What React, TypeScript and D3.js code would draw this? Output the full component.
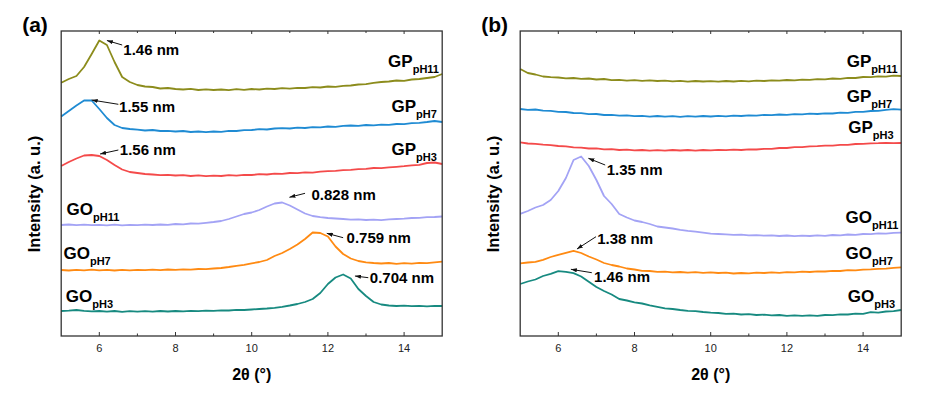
import * as d3 from "d3";

const WIDTH = 926;
const HEIGHT = 397;
const FONT = "Arial, 'Liberation Sans', Helvetica, sans-serif";

// 2θ sampling positions (degrees) shared by every pattern
const TWO_THETA = d3.range(51).map((i) => +(5 + i * 0.2).toFixed(1));
const X_MAJOR = [6, 8, 10, 12, 14];
const X_MINOR = [7, 9, 11, 13];

// panel (a) intensities (a.u., curves already stacked)
const A_GP11 = [253.3, 257, 260, 269, 282, 295.5, 291, 274, 259, 254, 251, 249.5, 249, 247.5, 248, 247, 246.5, 247.2, 246, 246.7, 246, 246.5, 245.8, 246.8, 246.2, 247, 246.5, 247.4, 247, 247.8, 247.4, 248.2, 248, 248.8, 248.5, 249.5, 249.2, 250.2, 250.5, 251.5, 251.8, 253.2, 254, 254.5, 255.5, 255.2, 256.5, 257, 258, 259, 262];
const A_GP7 = [219.5, 225, 230.5, 235.5, 235.5, 227, 218, 211, 208, 207, 206.3, 205.5, 206, 205, 205.2, 204.5, 205, 204, 204.5, 203.8, 204.5, 204.2, 205.2, 205, 205.8, 206, 206.8, 206.5, 207.5, 207.8, 207.5, 208.4, 208, 208.8, 208.6, 209.5, 209.2, 210.2, 210.5, 210.2, 211, 210.7, 211.4, 211.2, 212, 211.8, 212.8, 213.2, 214, 215, 214];
const A_GP3 = [170, 174, 177.5, 180.5, 181, 180, 176, 171, 166.5, 164, 163, 162, 161.5, 160.8, 161.2, 160.5, 160.8, 160, 160.6, 159.8, 160.4, 160, 160.8, 160.4, 161.2, 161, 161.8, 161.5, 162.4, 162.2, 163, 162.8, 163.6, 163.4, 164.4, 164.8, 165.2, 165.8, 166.2, 166.8, 167.2, 168, 167.8, 168.6, 169.2, 169.8, 170.6, 171.2, 173, 173.5, 172];
const A_GO11 = [111, 111.5, 110.8, 111.4, 110.8, 111.2, 110.6, 111.3, 110.7, 111.2, 110.8, 111.4, 111, 111.5, 111.2, 112, 111.7, 112.5, 112.4, 113.2, 114, 115, 117, 119.5, 122, 123.5, 126, 129.5, 132.5, 133.5, 130.5, 126.5, 122.5, 120, 118.8, 118, 117.5, 117, 116.4, 116.7, 116, 116.4, 115.8, 116.6, 117, 117.4, 118, 118.2, 118.8, 119, 119.5];
const A_GO7 = [66, 65.5, 66.2, 65.6, 66.4, 65.7, 66.2, 65.5, 66.1, 65.6, 66.2, 65.8, 66.4, 65.9, 66.5, 66.1, 66.7, 66.4, 67, 66.8, 67.5, 68, 69, 70.2, 71.2, 72.7, 74, 76, 80, 83, 87, 91.5, 97, 103.5, 103, 99.5, 89.5, 82, 77.5, 75, 73.7, 73, 72.5, 73, 72.2, 72.8, 72.4, 73.2, 72.8, 73.6, 74.3];
const A_GO3 = [25, 25.4, 26, 25.2, 24.6, 25, 24.4, 25, 24.2, 24.8, 24.3, 24.9, 24.4, 25, 24.5, 25, 24.6, 25.2, 24.8, 25.4, 25.1, 25.7, 25.5, 26.2, 26, 26.5, 27, 27.5, 28.2, 29.2, 30.5, 32, 34, 37, 43, 52, 58.5, 61.5, 57.5, 47, 40, 34, 31.5, 30.5, 30, 30.4, 29.8, 30.2, 29.7, 30.1, 30];

// panel (b)
const B_GP11 = [267, 263, 261.5, 259.5, 258.8, 258.5, 257.6, 258, 257.2, 257.5, 256.5, 257, 255.8, 256.2, 255.4, 255.8, 255.1, 255.6, 255, 255.3, 254.6, 255.1, 254.4, 255, 254.5, 254.8, 254.4, 255, 254.5, 255.1, 254.7, 255.4, 255, 255.7, 255.3, 256, 255.7, 256.4, 256.2, 256.8, 256.7, 257.5, 257.2, 258.2, 258, 259, 258.8, 259.6, 259.4, 260.4, 260];
const B_GP7 = [227, 226.2, 226.5, 225.4, 225.2, 224.2, 224, 223, 222.8, 221.8, 222, 221, 221.2, 220.4, 220.7, 219.8, 220.2, 219.4, 220, 219.3, 219.8, 219.2, 219.9, 219.4, 220, 219.5, 220.1, 219.7, 220.4, 220, 220.7, 220.4, 221.1, 220.8, 221.5, 221.2, 221.9, 221.6, 222.3, 222, 222.7, 222.5, 223.4, 223.2, 224.2, 224.2, 225, 225.2, 226.2, 226.8, 226.3];
const B_GP3 = [193.7, 192.5, 192.2, 191.4, 190.8, 190, 189.6, 188.6, 188.4, 187.5, 187.6, 186.6, 186.8, 186, 186.4, 185.6, 186, 185.4, 185.9, 185.4, 186, 185.5, 186, 185.4, 186, 185.6, 186.2, 185.8, 186.4, 186, 186.7, 186.5, 187.2, 187.1, 188, 188, 188.8, 188.8, 189.7, 189.8, 190.4, 190.4, 191.2, 191.2, 192, 192.2, 192.6, 192.8, 193.2, 192.8, 193];
const B_GO11 = [122.2, 125, 128.5, 131, 136, 145, 158, 176, 179.5, 170, 156, 140, 132, 122, 118.5, 115.5, 114, 112, 109.5, 108.5, 107.5, 106.2, 105.2, 104.4, 103.4, 102.3, 102, 101.6, 101.2, 101.4, 100.6, 100.9, 100.3, 100.7, 100, 100.5, 99.8, 100.4, 100, 100.7, 100.2, 101, 100.7, 101.5, 101.2, 102, 101.8, 102.6, 102.4, 103.2, 103.3];
const B_GO7 = [72.7, 73.5, 74.2, 76.2, 79, 81.2, 83.2, 85.2, 83, 79.5, 76.5, 73, 71, 69.5, 67.5, 66.5, 65.2, 65, 64.2, 64.4, 63.6, 64, 63.3, 63.8, 63.2, 63.7, 63, 63.4, 62.5, 63, 62.7, 63.4, 63, 63.6, 63.2, 63.9, 63.6, 64.3, 64, 64.7, 64.5, 65.2, 65, 65.8, 65.7, 66.4, 66.6, 67.2, 67.4, 68.2, 68.7];
const B_GO3 = [52, 54.5, 56.5, 60, 62.2, 64.8, 64.2, 62.8, 59.5, 54.2, 49, 45, 41.5, 37, 35.5, 33.7, 32.5, 30.7, 29.2, 27.7, 27, 26, 25.2, 24.8, 24, 23.4, 23, 22.2, 22.4, 21.5, 21.8, 21, 21.3, 20.6, 21, 20.2, 20.7, 20.1, 20.6, 20.2, 21, 20.8, 21.6, 21.5, 22.4, 22.2, 23.8, 23.4, 24.5, 24.8, 26];

const COLORS = {
  GP11: "#8c8c1c",
  GP7: "#1f8bd3",
  GP3: "#f44a4a",
  GO11: "#a3a3f5",
  GO7: "#ff8a12",
  GO3: "#178a80",
};

type Series = { key: keyof typeof COLORS; base: string; sub: string; values: number[]; label: [number, number] };
type Note = { text: string; tip: [number, number]; tail: [number, number]; at: [number, number] };

// label anchor = [2θ, intensity] of the text baseline start
const SERIES_A: Series[] = [
  { key: "GP11", base: "GP", sub: "pH11", values: A_GP11, label: [13.58, 269.3] },
  { key: "GP7", base: "GP", sub: "pH7", values: A_GP7, label: [13.67, 223.7] },
  { key: "GP3", base: "GP", sub: "pH3", values: A_GP3, label: [13.67, 181] },
  { key: "GO11", base: "GO", sub: "pH11", values: A_GO11, label: [5.14, 121] },
  { key: "GO7", base: "GO", sub: "pH7", values: A_GO7, label: [5.06, 76.7] },
  { key: "GO3", base: "GO", sub: "pH3", values: A_GO3, label: [5.12, 34.3] },
];
const SERIES_B: Series[] = [
  { key: "GP11", base: "GP", sub: "pH11", values: B_GP11, label: [13.57, 269.3] },
  { key: "GP7", base: "GP", sub: "pH7", values: B_GP7, label: [13.57, 234.3] },
  { key: "GP3", base: "GP", sub: "pH3", values: B_GP3, label: [13.61, 203.3] },
  { key: "GO11", base: "GO", sub: "pH11", values: B_GO11, label: [13.54, 112.7] },
  { key: "GO7", base: "GO", sub: "pH7", values: B_GO7, label: [13.54, 76.7] },
  { key: "GO3", base: "GO", sub: "pH3", values: B_GO3, label: [13.6, 34.3] },
];

const NOTES_A: Note[] = [
  { text: "1.46 nm", tip: [6.2, 295.5], tail: [6.6, 291], at: [6.63, 281] },
  { text: "1.55 nm", tip: [5.8, 236], tail: [6.5, 231.7], at: [6.52, 224.3] },
  { text: "1.56 nm", tip: [6.02, 182], tail: [6.5, 186], at: [6.54, 181] },
  { text: "0.828 nm", tip: [10.99, 138.7], tail: [11.4, 142.7], at: [11.57, 136] },
  { text: "0.759 nm", tip: [11.97, 102.7], tail: [12.4, 98.3], at: [12.49, 93.3] },
  { text: "0.704 nm", tip: [12.71, 60], tail: [13.06, 58.3], at: [13.1, 52.7] },
];
const NOTES_B: Note[] = [
  { text: "1.35 nm", tip: [6.79, 177.7], tail: [7.23, 171], at: [7.27, 161] },
  { text: "1.38 nm", tip: [6.49, 87], tail: [6.99, 99.3], at: [7.02, 92] },
  { text: "1.46 nm", tip: [6.33, 66.7], tail: [6.88, 63.3], at: [6.94, 54] },
];

const MARGIN = { top: 31, bottom: 61 };
const PANELS = [
  { tag: "(a)", left: 61.2, width: 381, series: SERIES_A, notes: NOTES_A },
  { tag: "(b)", left: 520.2, width: 381, series: SERIES_B, notes: NOTES_B },
];

const Panel = ({ tag, left, width, series, notes }: (typeof PANELS)[number]) => {
  const top = MARGIN.top;
  const bottom = HEIGHT - MARGIN.bottom + 0.0;
  const x = d3.scaleLinear().domain([5, 15]).range([left, left + width]);
  const y = d3.scaleLinear().domain([0, 305]).range([336, 31]);
  const line = d3
    .line<number>()
    .x((_, i) => x(TWO_THETA[i]))
    .y((d) => y(d));

  return (
    <g>
      {series.map((s) => (
        <path key={s.key} d={line(s.values) || ""} fill="none" stroke={COLORS[s.key]} strokeWidth={1.8} strokeLinejoin="round" />
      ))}
      <rect x={left} y={top} width={width} height={336 - top} fill="none" stroke="#333" strokeWidth={1.3} />
      {X_MAJOR.map((t) => (
        <g key={"M" + t}>
          <line x1={x(t)} x2={x(t)} y1={336} y2={332} stroke="#333" strokeWidth={1} />
          <line x1={x(t)} x2={x(t)} y1={top} y2={top + 3} stroke="#333" strokeWidth={1} />
          <text x={x(t)} y={352} textAnchor="middle" fontSize={11} fontFamily={FONT} fill="#222">
            {t}
          </text>
        </g>
      ))}
      {X_MINOR.map((t) => (
        <g key={"m" + t}>
          <line x1={x(t)} x2={x(t)} y1={336} y2={333.5} stroke="#333" strokeWidth={1} />
          <line x1={x(t)} x2={x(t)} y1={top} y2={top + 2} stroke="#333" strokeWidth={1} />
        </g>
      ))}
      <text x={x(10)} y={380} textAnchor="middle" fontSize={16} fontWeight="bold" fontFamily={FONT}>
        2θ (°)
      </text>
      <text
        transform={`translate(${left - 21},${194}) rotate(-90)`}
        textAnchor="middle"
        fontSize={16.5}
        fontWeight="bold"
        fontFamily={FONT}
      >
        Intensity (a. u.)
      </text>
      <text x={left - 39} y={31.5} fontSize={21} fontWeight="bold" fontFamily={FONT}>
        {tag}
      </text>
      {series.map((s) => (
        <text key={"l" + s.key} x={x(s.label[0])} y={y(s.label[1])} fontSize={17} fontWeight="bold" fontFamily={FONT}>
          {s.base}
          <tspan fontSize={11} dy={6}>
            {s.sub}
          </tspan>
        </text>
      ))}
      {notes.map((n) => (
        <g key={n.text + n.at[0]}>
          <line
            x1={x(n.tail[0])}
            y1={y(n.tail[1])}
            x2={x(n.tip[0])}
            y2={y(n.tip[1])}
            stroke="#111"
            strokeWidth={1}
            markerEnd="url(#arrowhead)"
          />
          <text x={x(n.at[0])} y={y(n.at[1])} fontSize={15} fontWeight="bold" fontFamily={FONT}>
            {n.text}
          </text>
        </g>
      ))}
    </g>
  );
};

export default function App() {
  return (
    <svg width={WIDTH} height={HEIGHT} style={{ position: "absolute", left: 0, top: 0, background: "#fff" }}>
      <defs>
        <marker
          id="arrowhead"
          viewBox="0 0 10 7"
          refX={10}
          refY={3.5}
          markerWidth={6}
          markerHeight={4.2}
          markerUnits="userSpaceOnUse"
          orient="auto"
        >
          <path d="M0,0 L10,3.5 L0,7 z" fill="#111" />
        </marker>
      </defs>
      {PANELS.map((p) => (
        <Panel key={p.tag} {...p} />
      ))}
    </svg>
  );
}
